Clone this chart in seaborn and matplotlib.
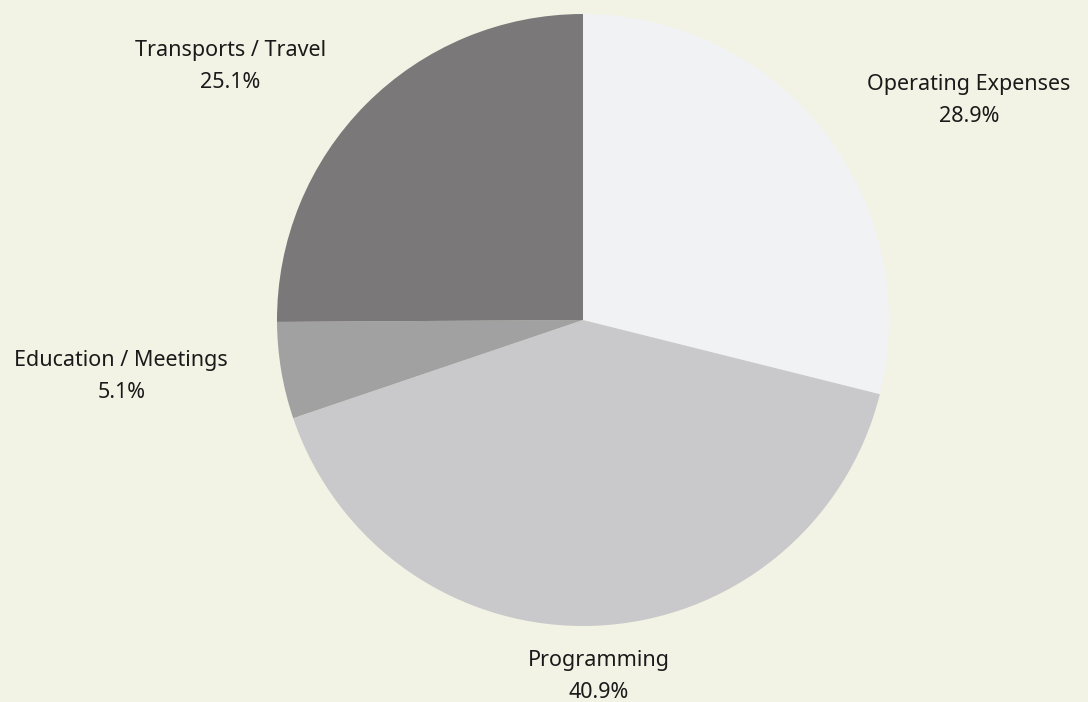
# Budget breakdown pie chart
import numpy as np
import matplotlib.pyplot as plt
import seaborn as sns

# Data
categories = ["Operating Expenses", "Programming", "Education / Meetings", "Transports / Travel"]
shares = [28.9, 40.9, 5.1, 25.1]
colors = ["#f1f2f4", "#c9c9cb", "#a1a1a1", "#7a7879"]

# label anchor (radius, angle in degrees) for each slice, layout only
label_r = [1.45, 1.165, 1.52, 1.42]
label_ang = [29.6, -87.5, -173.0, 144.3]

sns.set_theme(style="white")
plt.rcParams["font.family"] = ["Noto Sans", "DejaVu Sans"]

bg = "#f3f3e5"
fig = plt.figure(figsize=(10.88, 7.02), dpi=100, facecolor=bg)
ax = fig.add_axes([0, 0, 1, 1])
ax.set_facecolor(bg)

wedges, _ = ax.pie(shares, colors=colors, startangle=90, counterclock=False,
                   radius=1, center=(0, 0), wedgeprops=dict(linewidth=0))

# pixel-matched limits: centre at (583, 320), radius 306 px
r_px = 306
ax.set_xlim(-583 / r_px, (1088 - 583) / r_px)
ax.set_ylim(-(702 - 320) / r_px, 320 / r_px)
ax.set_aspect("auto")
ax.axis("off")

for name, val, r, a in zip(categories, shares, label_r, label_ang):
    x = r * np.cos(np.radians(a))
    y = r * np.sin(np.radians(a))
    ax.text(x, y, f"{name}\n{val:.1f}%", ha="center", va="center",
            fontsize=15.5, color="#1a1a1a", linespacing=1.7)

plt.savefig("out.png", dpi=100, facecolor=bg)
